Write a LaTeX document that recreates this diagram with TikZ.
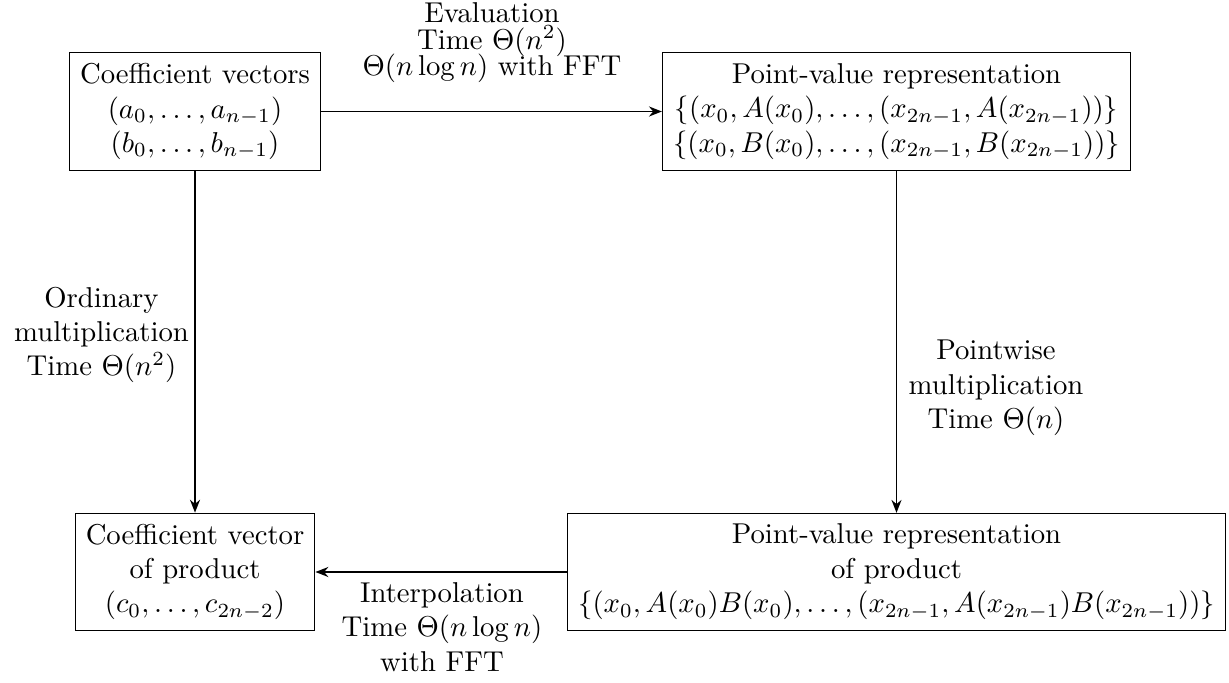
\documentclass[tikz,border=0pt]{standalone}
\usetikzlibrary{arrows.meta}
\begin{document}
\begin{tikzpicture}[x=0.3484pt,y=-0.3484pt,
  box/.style={draw, line width=0.4pt, align=center, inner sep=3.7pt},
  lab/.style={align=center, inner sep=2pt},
  conn/.style={-{Stealth[length=4.5pt,width=3.5pt]}, line width=0.6pt}]
\useasboundingbox (0,0) rectangle (1229,683);
\node[box] (A) at (195,111.5) {Coefficient vectors\\$(a_0,\ldots,a_{n-1})$\\$(b_0,\ldots,b_{n-1})$};
\node[box] (B) at (896.5,111.5) {Point-value representation\\$\{(x_0,A(x_0),\ldots,(x_{2n-1},A(x_{2n-1}))\}$\\$\{(x_0,B(x_0),\ldots,(x_{2n-1},B(x_{2n-1}))\}$};
\node[box] (C) at (195,572) {Coefficient vector\\of product\\$(c_0,\ldots,c_{2n-2})$};
\node[box] (D) at (896.5,572) {Point-value representation\\of product\\$\{(x_0,A(x_0)B(x_0),\ldots,(x_{2n-1},A(x_{2n-1})B(x_{2n-1}))\}$};
\draw[conn] (A) -- (B);
\draw[conn] (A) -- (C);
\draw[conn] (B) -- (D);
\draw[conn] (D) -- (C);
\node[lab] (ev) at (492,43) {Evaluation\\[-2.8pt]Time $\Theta(n^2)$\\[-2.8pt]$\Theta(n\log n)$ with FFT};
\node[lab] (om) at (101.5,335) {Ordinary\\multiplication\\Time $\Theta(n^2)$};
\node[lab] (pm) at (996,388) {Pointwise\\multiplication\\Time $\Theta(n)$};
\node[lab] (ip) at (442,627) {Interpolation\\Time $\Theta(n\log n)$\\with FFT};
\end{tikzpicture}
\end{document}
